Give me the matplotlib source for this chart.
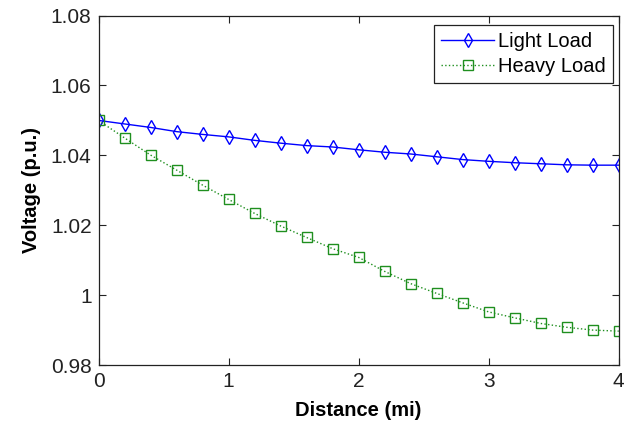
"""Feeder voltage profile: per-unit voltage vs distance for light and heavy load."""

import matplotlib
matplotlib.use("Agg")
import matplotlib.pyplot as plt

plt.rcParams["font.family"] = ["Liberation Sans", "DejaVu Sans"]

# Distance along the feeder (mi), sampled every 0.2 mi
distance = [0.0, 0.2, 0.4, 0.6, 0.8, 1.0, 1.2, 1.4, 1.6, 1.8, 2.0,
            2.2, 2.4, 2.6, 2.8, 3.0, 3.2, 3.4, 3.6, 3.8, 4.0]

light_load = [1.0500, 1.0490, 1.0480, 1.0468, 1.0460, 1.0453, 1.0443, 1.0435,
              1.0428, 1.0424, 1.0416, 1.0409, 1.0404, 1.0396, 1.0388, 1.0383,
              1.0379, 1.0376, 1.0373, 1.0372, 1.0372]

heavy_load = [1.0500, 1.0450, 1.0401, 1.0358, 1.0315, 1.0274, 1.0234, 1.0198,
              1.0165, 1.0133, 1.0108, 1.0068, 1.0033, 1.0005, 0.9978, 0.9952,
              0.9935, 0.9919, 0.9908, 0.9900, 0.9897]

x_ticks = [0, 1, 2, 3, 4]
y_ticks = [0.98, 1.00, 1.02, 1.04, 1.06, 1.08]
y_tick_labels = ["0.98", "1", "1.02", "1.04", "1.06", "1.08"]

fig = plt.figure(figsize=(6.25, 4.22), dpi=100)
ax = fig.add_axes([0.1576, 0.135, 0.8324, 0.828])

ax.plot(distance, light_load, "-", color="#0000ff", linewidth=1.0,
        marker="d", markersize=7, markerfacecolor="none",
        markeredgewidth=1.0, label="Light Load")
ax.plot(distance, heavy_load, ":", color="#1f8f1f", linewidth=1.0,
        marker="s", markersize=7.5, markerfacecolor="none",
        markeredgewidth=1.0, label="Heavy Load")

ax.set_xlim(0, 4)
ax.set_ylim(0.98, 1.08)
ax.set_xticks(x_ticks)
ax.set_xticklabels([str(t) for t in x_ticks])
ax.set_yticks(y_ticks)
ax.set_yticklabels(y_tick_labels)

ax.tick_params(direction="in", length=5, width=0.8, labelsize=15,
               top=True, right=True, pad=5, colors="#222222")
for spine in ax.spines.values():
    spine.set_linewidth(0.9)
    spine.set_color("#222222")

ax.set_xlabel("Distance (mi)", fontsize=14.5, fontweight="bold", labelpad=7)
ax.set_ylabel("Voltage (p.u.)", fontsize=14.5, fontweight="bold", labelpad=7)

leg = ax.legend(loc="upper right", bbox_to_anchor=(0.988, 0.973),
                fontsize=14.5, fancybox=False, framealpha=1,
                edgecolor="#222222", borderpad=0.35, handlelength=2.6,
                handletextpad=0.2, labelspacing=0.3, borderaxespad=0)
leg.get_frame().set_linewidth(0.9)

fig.savefig("out.png", dpi=100)
